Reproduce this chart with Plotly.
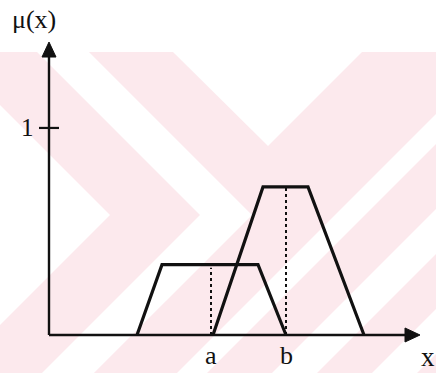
import plotly.graph_objects as go

# Two trapezoidal membership functions: corner x positions and plateau heights
trap_low_x = [8.8, 11.3, 20.9, 23.7]
trap_low_h = 0.34
trap_high_x = [16.4, 21.4, 25.9, 31.5]
trap_high_h = 0.715

# Marked points on the x axis (a, b) with their dotted guides
mark_names = ["a", "b"]
mark_x = [16.2, 23.7]
mark_h = [0.325, 0.715]

# Axis extents (arrow tips) and the unit tick on the y axis
x_tip = 37.1
y_tip = 1.415
y_ticks = [1]
y_tick_labels = ["1"]

W, H = 436, 373
x_range = [-4.9, 38.7]
y_range = [-0.1836, 1.618]

fig = go.Figure()

black = "#111111"

# trapezoids
for xs, h in [(trap_low_x, trap_low_h), (trap_high_x, trap_high_h)]:
    fig.add_trace(go.Scatter(
        x=xs, y=[0, h, h, 0], mode="lines",
        line=dict(color=black, width=3.2), hoverinfo="skip", showlegend=False))

# dotted guides from the axis up to each curve
for xv, h in zip(mark_x, mark_h):
    fig.add_trace(go.Scatter(
        x=[xv, xv], y=[0, h], mode="lines",
        line=dict(color=black, width=2, dash="dot"), hoverinfo="skip", showlegend=False))

# axis lines
fig.add_trace(go.Scatter(x=[0, x_tip - 1.0], y=[0, 0], mode="lines",
                         line=dict(color=black, width=2.4), hoverinfo="skip", showlegend=False))
fig.add_trace(go.Scatter(x=[0, 0], y=[0, y_tip - 0.05], mode="lines",
                         line=dict(color=black, width=2.4), hoverinfo="skip", showlegend=False))

# arrow heads (filled triangles), sized from the pixel scale of each axis
px_x = (x_range[1] - x_range[0]) / W
px_y = (y_range[1] - y_range[0]) / H
head_len, head_half = 15, 7
fig.add_trace(go.Scatter(
    x=[x_tip, x_tip - head_len * px_x, x_tip - head_len * px_x, x_tip],
    y=[0, head_half * px_y, -head_half * px_y, 0],
    mode="lines", fill="toself", fillcolor=black, line=dict(color=black, width=1),
    hoverinfo="skip", showlegend=False))
fig.add_trace(go.Scatter(
    x=[0, -head_half * px_x, head_half * px_x, 0],
    y=[y_tip, y_tip - head_len * px_y, y_tip - head_len * px_y, y_tip],
    mode="lines", fill="toself", fillcolor=black, line=dict(color=black, width=1),
    hoverinfo="skip", showlegend=False))

# unit tick on the y axis
for t in y_ticks:
    fig.add_trace(go.Scatter(x=[-10 * px_x, 10 * px_x], y=[t, t], mode="lines",
                             line=dict(color=black, width=2.2), hoverinfo="skip", showlegend=False))

serif = "Liberation Serif, Times New Roman, serif"
annotations = []
for t, lab in zip(y_ticks, y_tick_labels):
    annotations.append(dict(x=-13 * px_x, y=t, text=lab, showarrow=False,
                            xanchor="right", yanchor="middle",
                            font=dict(family=serif, size=25, color=black)))
for name, xv in zip(mark_names, mark_x):
    annotations.append(dict(x=xv, y=-0.1, text=name, showarrow=False,
                            xanchor="center", yanchor="middle",
                            font=dict(family=serif, size=26, color=black)))
annotations.append(dict(x=37.9, y=-0.105, text="x", showarrow=False,
                        xanchor="center", yanchor="middle",
                        font=dict(family=serif, size=27, color=black)))
annotations.append(dict(x=-1.55, y=1.525, text="μ(x)", showarrow=False,
                        xanchor="center", yanchor="middle",
                        font=dict(family=serif, size=26, color=black)))

# faint pink background pattern (pixel outlines converted to paper space)
pink = "#fce9ed"


def poly(points, color):
    path = "M " + " L ".join(f"{px / W:.4f},{1 - py / H:.4f}" for px, py in points) + " Z"
    return dict(type="path", path=path, xref="paper", yref="paper",
                fillcolor=color, line=dict(width=0), layer="below")


def rising_band(s0, s1):
    # white band between the lines x + y = s0 and x + y = s1, below y = 52
    top = 52
    return poly([(s0 - top, top), (s1 - top, top), (s1 - H, H), (s0 - H, H)], "white")


shapes = [
    poly([(0, 52), (W, 52), (W, H), (0, H)], pink),
    # left white chevron corner
    poly([(0, 105), (110, 215), (0, 325)], "white"),
    # white chevron band
    poly([(37, 52), (89, 52), (252, 215), (94, 373), (42, 373), (200, 215)], "white"),
    # white V opening upward
    poly([(173, 52), (362, 52), (268, 146)], "white"),
    rising_band(550, 580),
    rising_band(645, 690),
    rising_band(745, 790),
]

fig.update_layout(
    width=W, height=H,
    margin=dict(l=0, r=0, t=0, b=0),
    paper_bgcolor="white", plot_bgcolor="rgba(0,0,0,0)",
    xaxis=dict(range=x_range, visible=False, fixedrange=True),
    yaxis=dict(range=y_range, visible=False, fixedrange=True),
    annotations=annotations, shapes=shapes,
    showlegend=False,
)

fig.write_html("out.html")
